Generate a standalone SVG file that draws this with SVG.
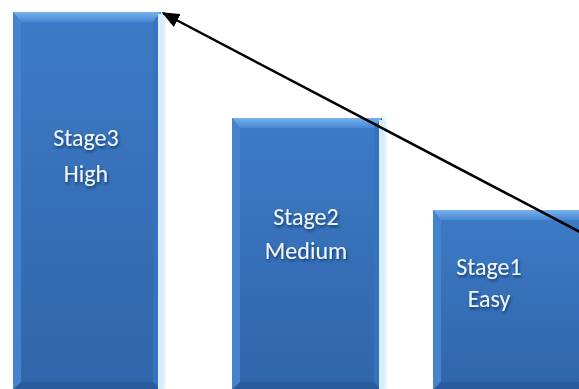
<svg xmlns="http://www.w3.org/2000/svg" width="579" height="389" viewBox="0 0 579 389">
<defs>
<linearGradient id="body" x1="0" y1="0" x2="0" y2="1">
<stop offset="0" stop-color="#3d7bc6"/>
<stop offset="1" stop-color="#3065aa"/>
</linearGradient>
<linearGradient id="topb" x1="0" y1="0" x2="0" y2="1">
<stop offset="0" stop-color="#78b2ea"/>
<stop offset="1" stop-color="#4888d4"/>
</linearGradient>
<filter id="ts" x="-20%" y="-30%" width="140%" height="160%">
<feDropShadow dx="1" dy="2" stdDeviation="1.5" flood-color="#0b2a55" flood-opacity="0.8"/>
</filter>
<filter id="glow" x="-10%" y="-5%" width="120%" height="110%">
<feGaussianBlur stdDeviation="2"/>
</filter>
<marker id="ah" viewBox="0 0 12 10" refX="11" refY="5" markerWidth="7" markerHeight="6" orient="auto" markerUnits="strokeWidth">
<path d="M0,0 L12,5 L0,10 Z" fill="#000"/>
</marker>
</defs>
<style>
.body{fill:url(#body)}
.top{fill:url(#topb)}
.left{fill:#4583cf}
.right{fill:#3672bd}
.bot{fill:#2a5b9d}
.edge{fill:#d6f0fb}
.glow{fill:#b8dcef;opacity:0.6}
.lbl{font-family:Calibri,Carlito,"Open Sans","Liberation Sans",sans-serif;font-size:24px;fill:#eef5fc;text-anchor:middle;filter:url(#ts)}
.conn{stroke:#000;stroke-width:2.5;fill:none}
</style>
<g id="stage3">
<rect class="glow" x="157" y="12" width="8" height="378" filter="url(#glow)"/>
<rect class="body" x="13" y="12" width="148" height="378"/>
<polygon class="top" points="13,12 161,12 153,22 21,22"/>
<polygon class="left" points="13,12 21,22 21,382 13,390"/>
<polygon class="right" points="161,12 153,22 153,382 161,390"/>
<polygon class="bot" points="13,390 21,382 153,382 161,390"/>
<rect class="edge" x="158" y="14" width="3" height="376"/>
<text class="lbl" x="86" y="146">Stage3</text>
<text class="lbl" x="86" y="182">High</text>
</g>
<g id="stage2">
<rect class="glow" x="378" y="118" width="8" height="272" filter="url(#glow)"/>
<rect class="body" x="232" y="118" width="150" height="272"/>
<polygon class="top" points="232,118 382,118 374,128 240,128"/>
<polygon class="left" points="232,118 240,128 240,382 232,390"/>
<polygon class="right" points="382,118 374,128 374,382 382,390"/>
<polygon class="bot" points="232,390 240,382 374,382 382,390"/>
<rect class="edge" x="379" y="120" width="3" height="270"/>
<text class="lbl" x="306" y="225">Stage2</text>
<text class="lbl" x="306" y="259">Medium</text>
</g>
<g id="stage1">
<rect class="body" x="433" y="210" width="160" height="180"/>
<polygon class="top" points="433,210 593,210 585,220 441,220"/>
<polygon class="left" points="433,210 441,220 441,382 433,390"/>
<polygon class="bot" points="433,390 441,382 593,382 593,390"/>
<text class="lbl" x="489" y="275">Stage1</text>
<text class="lbl" x="489" y="307">Easy</text>
</g>
<g id="connectors">
<line class="conn" x1="580" y1="232" x2="163" y2="13" marker-end="url(#ah)"/>
</g>
</svg>
